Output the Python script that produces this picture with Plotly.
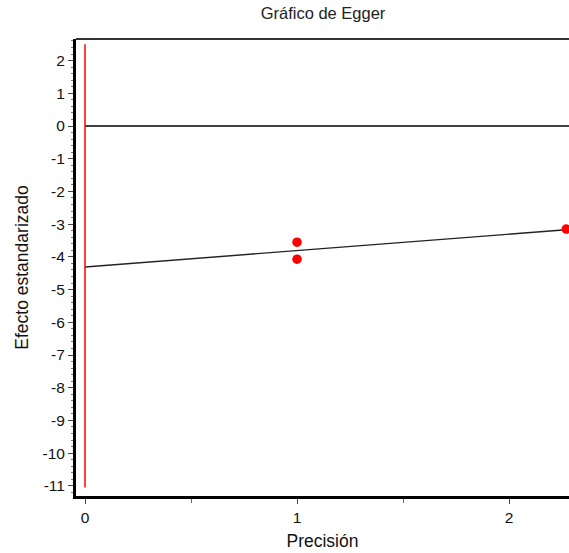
import plotly.graph_objects as go

# data
precision = [1.0, 1.0, 2.27]
std_effect = [-3.55, -4.07, -3.15]
reg_x = [0.0, 2.27]
reg_y = [-4.31, -3.17]
zero_x = [0.0, 2.4]
zero_y = [0.0, 0.0]
ci_x = [0.0, 0.0]
ci_y = [-11.05, 2.5]
y_ticks = list(range(-11, 3))
y_ticktext = [str(v) for v in y_ticks]
x_ticks = [0, 1, 2]

fig = go.Figure()
fig.add_trace(go.Scatter(x=zero_x, y=zero_y, mode="lines",
                         line=dict(color="black", width=1.5), hoverinfo="skip"))
fig.add_trace(go.Scatter(x=reg_x, y=reg_y, mode="lines",
                         line=dict(color="#222", width=1.4), hoverinfo="skip"))
fig.add_trace(go.Scatter(x=ci_x, y=ci_y, mode="lines",
                         line=dict(color="red", width=1.5), hoverinfo="skip"))
fig.add_trace(go.Scatter(x=precision, y=std_effect, mode="markers",
                         marker=dict(color="red", size=9.5, symbol="circle")))

font = dict(family="Liberation Sans, Arial, sans-serif", size=15.5, color="#111")

fig.update_layout(
    width=569, height=553,
    margin=dict(l=76, r=0, t=39, b=57),
    paper_bgcolor="white", plot_bgcolor="white",
    showlegend=False,
    font=font,
    title=dict(text="Gráfico de Egger", x=323 / 569, xanchor="center", y=1 - 13 / 553, yanchor="middle",
               font=dict(size=16.5, color="#222")),
    xaxis=dict(range=[-0.0425, 2.283], tickvals=x_ticks, showgrid=False, zeroline=False,
               showline=True, linewidth=3, linecolor="black",
               ticks="outside", ticklen=5, tickwidth=1, tickcolor="#444",
               minor=dict(dtick=0.5, ticks="outside", ticklen=4, tickcolor="#666"),
               title=dict(text="Precisión", standoff=11, font=dict(size=17.5)),
               tickfont=dict(size=15.5)),
    yaxis=dict(range=[-11.31, 2.66], tickvals=y_ticks, ticktext=y_ticktext,
               showgrid=False, zeroline=False,
               showline=True, linewidth=3, linecolor="black",
               ticks="outside", ticklen=5, tickwidth=1, tickcolor="#444",
               minor=dict(dtick=0.2, ticks="outside", ticklen=2, tickcolor="#777"),
               title=dict(text="Efecto estandarizado", standoff=10, font=dict(size=17.5)),
               tickfont=dict(size=15.5)),
    shapes=[dict(type="line", xref="paper", yref="paper", x0=0, x1=1, y0=1, y1=1,
                 line=dict(color="#333", width=2))],
)

fig.write_html("out.html", config={"displayModeBar": False},
               post_script="document.body.style.margin='0';document.body.style.padding='0';")
